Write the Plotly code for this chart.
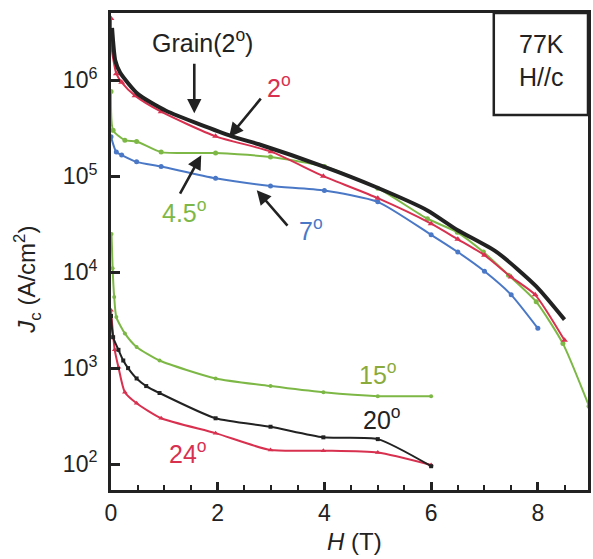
import plotly.graph_objects as go

# ---------------- data ----------------
grain_x = [0.02, 0.08, 0.17, 0.5, 1.03, 2.27, 2.77, 4.0, 4.94, 5.93, 6.49, 7.23, 7.97, 8.5]
grain_y = [3.5e6, 1.6e6, 1.2e6, 7.2e5, 4.8e5, 2.6e5, 2.15e5, 1.25e5, 7.8e4, 4.4e4, 2.75e4, 1.62e4, 7.1e3, 3.2e3]

d2_x = [0.0, 0.01, 0.1, 0.2, 0.45, 0.94, 1.96, 3.0, 3.98, 5.0, 6.0, 6.5, 7.0, 7.5, 7.95, 8.5]
d2_y = [4.4e6, 2.2e6, 1.17e6, 9.5e5, 6.9e5, 4.7e5, 2.6e5, 1.8e5, 1.0e5, 5.9e4, 3.2e4, 2.2e4, 1.5e4, 8.9e3, 5.8e3, 1.95e3]

d45_x = [0.0, 0.04, 0.26, 0.48, 0.94, 1.96, 2.99, 4.0, 5.0, 5.93, 6.49, 6.98, 7.45, 7.97, 8.47, 8.96]
d45_y = [7.6e5, 3.0e5, 2.37e5, 2.3e5, 1.78e5, 1.74e5, 1.58e5, 1.26e5, 7.5e4, 3.6e4, 2.6e4, 1.62e4, 9.3e3, 4.9e3, 1.8e3, 4.0e2]

d7_x = [0.0, 0.1, 0.2, 0.48, 0.94, 1.96, 2.99, 4.0, 5.0, 6.0, 6.5, 7.0, 7.5, 8.0]
d7_y = [2.57e5, 1.78e5, 1.66e5, 1.41e5, 1.26e5, 9.5e4, 7.9e4, 7.1e4, 5.4e4, 2.45e4, 1.62e4, 1.02e4, 5.8e3, 2.6e3]

d15_x = [0.01, 0.03, 0.06, 0.1, 0.26, 0.48, 0.91, 1.96, 2.99, 3.98, 5.0, 6.0]
d15_y = [2.5e4, 1.1e4, 5.5e3, 3.4e3, 2.3e3, 1.66e3, 1.2e3, 7.8e2, 6.5e2, 5.6e2, 5.1e2, 5.1e2]

d20_x = [0.0, 0.04, 0.14, 0.23, 0.32, 0.48, 0.66, 0.91, 1.96, 2.99, 3.98, 5.0, 6.0]
d20_y = [3.5e3, 2.1e3, 1.55e3, 1.2e3, 1.0e3, 7.8e2, 6.5e2, 5.5e2, 3.0e2, 2.45e2, 1.9e2, 1.82e2, 95]

d24_x = [0.0, 0.07, 0.14, 0.26, 0.48, 0.94, 1.96, 2.99, 3.98, 5.0, 6.0]
d24_y = [4.0e3, 1.55e3, 1.02e3, 5.6e2, 4.3e2, 3.0e2, 2.1e2, 1.4e2, 1.38e2, 1.32e2, 98]

x_tickvals = [0, 2, 4, 6, 8]
y_tickvals = [1e2, 1e3, 1e4, 1e5, 1e6]
y_ticktext = ["10<sup>2</sup>", "10<sup>3</sup>", "10<sup>4</sup>", "10<sup>5</sup>", "10<sup>6</sup>"]

RED = "#d8304f"
GREEN = "#7db846"
BLUE = "#4a78c6"
BLACK = "#222222"
FONT = "Liberation Sans, Arial, sans-serif"
ANN = 25

fig = go.Figure()

def add(x, y, color, symbol, width=2, size=5, mode="lines+markers", shape="spline"):
    fig.add_trace(go.Scatter(
        x=x, y=y, mode=mode,
        line=dict(color=color, width=width, shape=shape, smoothing=0.6),
        marker=dict(color=color, size=size, symbol=symbol),
        showlegend=False, hoverinfo="skip"))

add(d45_x, d45_y, GREEN, "circle", size=5)
add(d7_x, d7_y, BLUE, "circle", size=5)
add(d2_x, d2_y, RED, "triangle-up", size=6)
add(grain_x, grain_y, BLACK, "circle", width=4, mode="lines")
add(d15_x, d15_y, GREEN, "circle", size=4)
add(d24_x, d24_y, RED, "triangle-up", size=5)
add(d20_x, d20_y, BLACK, "square", size=4)

annots = []
def text(x, logy, s, color, size=ANN):
    annots.append(dict(x=x, y=logy, xref="x", yref="y", text=s, showarrow=False,
                       xanchor="center", yanchor="middle",
                       font=dict(family=FONT, size=size, color=color)))

text(1.71, 6.41, "Grain(2<sup>o</sup>)", BLACK)
text(3.14, 5.94, "2<sup>o</sup>", RED)
text(1.375, 4.635, "4.5<sup>o</sup>", GREEN)
text(3.75, 4.448, "7<sup>o</sup>", BLUE)
text(5.0, 2.948, "15<sup>o</sup>", "#8aab3c")
text(5.07, 2.479, "20<sup>o</sup>", BLACK)
text(1.45, 2.125, "24<sup>o</sup>", RED)

def arrow(x, logy, ax, ay):
    annots.append(dict(x=x, y=logy, xref="x", yref="y", text="", showarrow=True,
                       ax=ax, ay=ay, arrowhead=2, arrowsize=1.1, arrowwidth=2.6,
                       arrowcolor=BLACK))

arrow(1.561, 5.656, 0, -51)
arrow(2.212, 5.406, 33, -40)
arrow(1.691, 5.219, -22, 40)
arrow(2.732, 4.854, 32, 37)

annots.append(dict(x=0.902, y=0.90, xref="paper", yref="paper", xanchor="center", yanchor="middle",
                   text="77K<br>H//c", showarrow=False, align="center",
                   font=dict(family=FONT, size=ANN, color=BLACK)))
annots.append(dict(x=0.511, y=-0.107, xref="paper", yref="paper", xanchor="center", yanchor="middle",
                   text="<i>H</i> (T)", showarrow=False,
                   font=dict(family=FONT, size=24, color=BLACK)))
annots.append(dict(x=-0.175, y=0.44, xref="paper", yref="paper", textangle=-90,
                   xanchor="center", yanchor="middle",
                   text="<i>J</i><sub>c</sub> (A/cm<sup>2</sup>)", showarrow=False,
                   font=dict(family=FONT, size=24, color=BLACK)))

fig.update_layout(
    width=593, height=559,
    margin=dict(l=111, r=2, t=13, b=69),
    paper_bgcolor="white", plot_bgcolor="white",
    font=dict(family=FONT, size=23, color=BLACK),
    annotations=annots,
    shapes=[dict(type="rect", xref="paper", yref="paper", x0=0.8025, x1=1.0, y0=0.786, y1=1.0,
                 line=dict(color=BLACK, width=2.5))],
    xaxis=dict(range=[0, 8.94], tickvals=x_tickvals, ticks="inside", ticklen=8, tickwidth=2.5,
               tickcolor=BLACK, showline=True, linecolor=BLACK, linewidth=3, mirror=True,
               showgrid=False, zeroline=False,
               minor=dict(dtick=0.5, ticks="inside", ticklen=5, tickwidth=2, tickcolor=BLACK, showgrid=False),
               tickfont=dict(family=FONT, size=23, color=BLACK)),
    yaxis=dict(type="log", range=[1.73, 6.70], tickvals=y_tickvals, ticktext=y_ticktext,
               ticks="inside", ticklen=9, tickwidth=2.5, tickcolor=BLACK,
               showline=True, linecolor=BLACK, linewidth=3, mirror=True,
               showgrid=False, zeroline=False, ticklabelstandoff=6,
               tickfont=dict(family=FONT, size=23, color=BLACK)),
)

# remove the browser's default page margin so the figure sits at the window's top-left corner
fig.write_html("out.html", config={"displayModeBar": False},
               post_script="document.body.style.margin='0';document.body.style.overflow='hidden';")
